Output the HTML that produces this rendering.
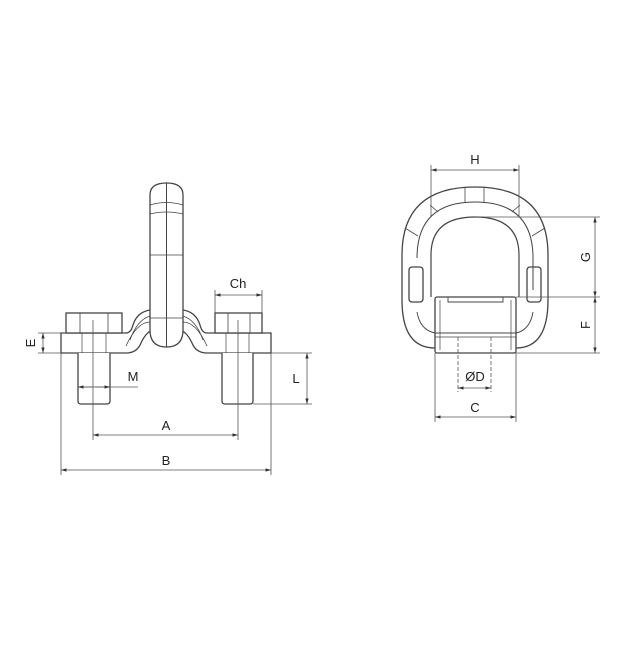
<!DOCTYPE html>
<html><head><meta charset="utf-8"><style>html,body{margin:0;padding:0;background:#fff}</style></head><body>
<svg width="640" height="640" viewBox="0 0 640 640" xmlns="http://www.w3.org/2000/svg">
<defs>
<marker id="a" viewBox="0 0 10 10" refX="10" refY="5" markerWidth="7" markerHeight="7" orient="auto-start-reverse"><path d="M0,2 L10,5 L0,8 z" fill="#333"/></marker>
</defs>
<rect width="640" height="640" fill="#fff"/>
<g fill="none" stroke="#444" stroke-width="1.3">
<!-- plates -->
<path d="M61,333 H126 Q131,333 133,325 Q137,312 150,310 H183 Q196,312 200,325 Q202,333 207,333 H271 V353 H207 Q196,353 192,343 Q186,330 178,330 H155 Q147,330 141,343 Q137,353 126,353 H61 Z" fill="#fff"/>
<path d="M130,340 Q137,320 150,316 M183,316 Q196,320 203,340" stroke-width="0.8"/>
<path d="M126,346 Q137,322 150,322 M183,322 Q196,322 207,346" stroke-width="0.8"/>
<!-- ring -->
<path d="M150,195 Q150,183 166.5,183 Q183,183 183,195 V330 Q183,347 166.5,347 Q150,347 150,330 Z" fill="#fff"/>
<line x1="166.5" y1="183" x2="166.5" y2="347" stroke-width="1"/>
<path d="M150,205 Q166,200 183,205 M150,214 Q166,210 183,214 M150,255 H183 M150,318 H183" stroke-width="0.8"/>
<!-- bolt heads -->
<rect x="66" y="313" width="56" height="20" fill="#fff"/>
<line x1="80" y1="313" x2="80" y2="333" stroke-width="0.8"/><line x1="108" y1="313" x2="108" y2="333" stroke-width="0.8"/>
<rect x="215" y="313" width="47" height="20" fill="#fff"/>
<line x1="228" y1="313" x2="228" y2="333" stroke-width="0.8"/><line x1="250" y1="313" x2="250" y2="333" stroke-width="0.8"/>
<!-- shanks -->
<path d="M78,353 V401 Q78,404 81,404 H107 Q110,404 110,401 V353" fill="#fff"/>
<path d="M222,353 V401 Q222,404 225,404 H250 Q253,404 253,401 V353" fill="#fff"/>
<line x1="82" y1="333" x2="82" y2="353" stroke-width="0.7"/><line x1="106" y1="333" x2="106" y2="353" stroke-width="0.7"/>
<line x1="226" y1="333" x2="226" y2="353" stroke-width="0.7"/><line x1="249" y1="333" x2="249" y2="353" stroke-width="0.7"/>
</g>
<g stroke="#555" stroke-width="0.8" fill="none">
<line x1="93" y1="320" x2="93" y2="440"/><line x1="238" y1="320" x2="238" y2="440"/>
<line x1="61" y1="353" x2="61" y2="475"/><line x1="271" y1="353" x2="271" y2="475"/>
<line x1="93" y1="435" x2="238" y2="435" marker-start="url(#a)" marker-end="url(#a)"/>
<line x1="61" y1="470" x2="271" y2="470" marker-start="url(#a)" marker-end="url(#a)"/>
<line x1="38" y1="333" x2="66" y2="333"/><line x1="38" y1="353" x2="61" y2="353"/>
<line x1="43" y1="333" x2="43" y2="353" marker-start="url(#a)" marker-end="url(#a)"/>
<line x1="78" y1="387" x2="138" y2="387"/>
<line x1="78" y1="387" x2="93" y2="387" marker-start="url(#a)"/>
<line x1="95" y1="387" x2="110" y2="387" marker-end="url(#a)"/>
<line x1="271" y1="353" x2="312" y2="353"/><line x1="253" y1="404" x2="312" y2="404"/>
<line x1="307" y1="353" x2="307" y2="404" marker-start="url(#a)" marker-end="url(#a)"/>
<line x1="215" y1="290" x2="215" y2="313"/><line x1="262" y1="290" x2="262" y2="313"/>
<line x1="215" y1="295" x2="262" y2="295" marker-start="url(#a)" marker-end="url(#a)"/>
</g>
<!-- RIGHT VIEW -->
<g fill="none" stroke="#444" stroke-width="1.3">
<path d="M402,300 V255 Q402,187 475,187 Q548,187 548,255 V300 Q548,348 516,348 H435 Q402,348 402,300 Z" fill="#fff"/>
<path d="M417,258 Q417,202 475,202 Q533,202 533,258 V290" stroke-width="1"/>
<path d="M431,255 Q431,217 475,217 Q519,217 519,255 V297 M431,297 V255" stroke-width="1.2"/>
<path d="M417,312 Q420,330 435,333 M533,312 Q530,330 516,333" stroke-width="0.9"/>
<path d="M465,188 V202 M484,188 V202 M430,205 L438,212 M520,205 L512,212 M405,228 L418,236 M545,228 L532,236" stroke-width="0.8"/>
<rect x="409" y="267" width="14" height="35" rx="3"/>
<rect x="527" y="267" width="14" height="35" rx="3"/>
<rect x="435" y="297" width="81" height="56" rx="2" fill="#fff"/>
<path d="M448,297 V302 H503 V297" stroke-width="0.9"/>
<line x1="435" y1="333" x2="516" y2="333" stroke-width="0.9"/>
<line x1="435" y1="337" x2="516" y2="337" stroke-width="0.7"/>
<line x1="440" y1="300" x2="440" y2="350" stroke-width="0.7"/><line x1="511" y1="300" x2="511" y2="350" stroke-width="0.7"/>
</g>
<g stroke="#555" stroke-width="0.8" fill="none">
<line x1="431" y1="165" x2="431" y2="217"/><line x1="519" y1="165" x2="519" y2="217"/>
<line x1="431" y1="170" x2="519" y2="170" marker-start="url(#a)" marker-end="url(#a)"/>
<line x1="475" y1="217" x2="600" y2="217"/><line x1="516" y1="297" x2="600" y2="297"/><line x1="516" y1="353" x2="600" y2="353"/>
<line x1="595" y1="217" x2="595" y2="297" marker-start="url(#a)" marker-end="url(#a)"/>
<line x1="595" y1="297" x2="595" y2="353" marker-start="url(#a)" marker-end="url(#a)"/>
<line x1="458" y1="337" x2="458" y2="392" stroke-dasharray="4,2"/><line x1="491" y1="337" x2="491" y2="392" stroke-dasharray="4,2"/>
<line x1="458" y1="388" x2="491" y2="388" marker-start="url(#a)" marker-end="url(#a)"/>
<line x1="435" y1="353" x2="435" y2="422"/><line x1="516" y1="353" x2="516" y2="422"/>
<line x1="435" y1="417" x2="516" y2="417" marker-start="url(#a)" marker-end="url(#a)"/>
</g>
<g font-family="Liberation Sans, sans-serif" font-size="13" fill="#222" text-anchor="middle">
<text x="166" y="430">A</text>
<text x="166" y="465">B</text>
<text x="133" y="381">M</text>
<text x="238" y="288">Ch</text>
<text x="296" y="383">L</text>
<text transform="translate(35,343) rotate(-90)" y="0">E</text>
<text x="475" y="164">H</text>
<text x="475" y="381">ØD</text>
<text x="475" y="412">C</text>
<text transform="translate(590,257) rotate(-90)">G</text>
<text transform="translate(590,325) rotate(-90)">F</text>
</g>
</svg>
</body></html>
